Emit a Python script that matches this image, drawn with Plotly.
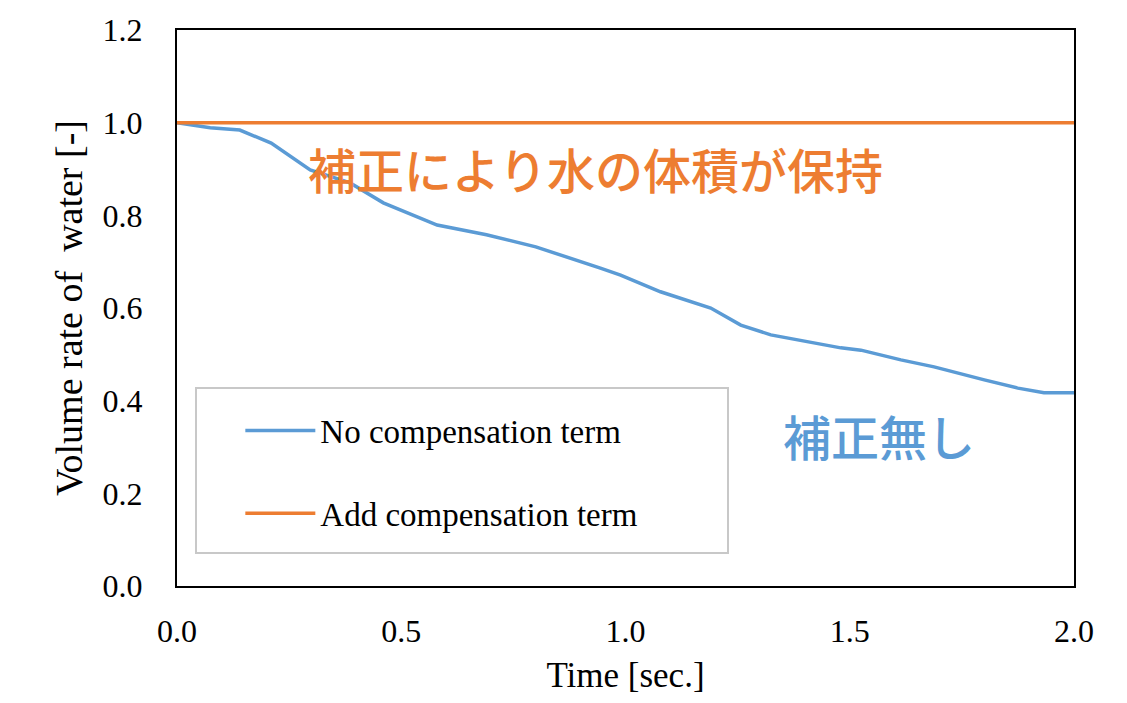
import plotly.graph_objects as go

# Data
time_no_comp = [0.0, 0.074, 0.14, 0.21, 0.297, 0.386, 0.46, 0.58, 0.69, 0.80, 0.944,
                0.989, 1.078, 1.19, 1.257, 1.324, 1.48, 1.525, 1.614, 1.688, 1.80,
                1.875, 1.933, 2.0]
vol_no_comp = [1.0, 0.989, 0.984, 0.956, 0.898, 0.870, 0.827, 0.779, 0.758, 0.732, 0.686,
               0.671, 0.635, 0.600, 0.563, 0.542, 0.514, 0.509, 0.488, 0.473, 0.445,
               0.427, 0.417, 0.417]
time_comp = [0.0, 2.0]
vol_comp = [1.0, 1.0]

series_names = ["No compensation term", "Add compensation term"]
x_ticks = [0.0, 0.5, 1.0, 1.5, 2.0]
y_ticks = [0.0, 0.2, 0.4, 0.6, 0.8, 1.0, 1.2]

BLUE = "#5B9BD5"
ORANGE = "#ED7D31"
SERIF = "Liberation Serif, Times New Roman, serif"
CJK = "Noto Sans CJK JP"

fig = go.Figure()
fig.add_trace(go.Scatter(x=time_no_comp, y=vol_no_comp, mode="lines",
                         name=series_names[0], legendgroup="a",
                         line=dict(color=BLUE, width=3.5)))
fig.add_trace(go.Scatter(x=time_comp, y=vol_comp, mode="lines",
                         name=series_names[1], legendgroup="b",
                         line=dict(color=ORANGE, width=3.5)))

fig.update_layout(
    width=1111, height=687,
    margin=dict(l=169, r=45, t=22, b=109),
    paper_bgcolor="white", plot_bgcolor="white",
    font=dict(family=SERIF, size=30, color="black"),
    showlegend=True,
    legend=dict(x=0.0706, xanchor="left", y=0.33, yanchor="top",
                bgcolor="rgba(0,0,0,0)", borderwidth=0,
                font=dict(family=SERIF, size=33, color="black"),
                tracegroupgap=37, itemwidth=70),
    shapes=[dict(type="rect", xref="paper", yref="paper",
                 x0=(196 - 177) / 897, x1=(728 - 177) / 897,
                 y0=(586 - 553) / 556, y1=(586 - 388) / 556,
                 line=dict(color="#C8C8C8", width=2), fillcolor="rgba(0,0,0,0)")],
    annotations=[
        dict(x=0.933, y=0.902, xref="x", yref="y", text="補正により水の体積が保持",
             showarrow=False, xanchor="center", yanchor="middle",
             font=dict(family=CJK, size=48, color=ORANGE, weight=500)),
        dict(x=1.565, y=0.326, xref="x", yref="y", text="補正無し",
             showarrow=False, xanchor="center", yanchor="middle",
             font=dict(family=CJK, size=48, color=BLUE, weight=500)),
    ],
)

fig.update_xaxes(range=[0, 2.0], tickvals=x_ticks, ticktext=[f"{v:.1f}" for v in x_ticks],
                 showgrid=False, zeroline=False, showline=True, linecolor="black",
                 linewidth=2, mirror=True, ticks="", ticklen=0, ticklabelstandoff=16,
                 automargin=False,
                 tickfont=dict(family=SERIF, size=32),
                 title=dict(text="Time [sec.]", font=dict(family=SERIF, size=35), standoff=22))
fig.update_yaxes(range=[0, 1.2], tickvals=y_ticks, ticktext=[f"{v:.1f}" for v in y_ticks],
                 showgrid=False, zeroline=False, showline=True, linecolor="black",
                 linewidth=2, mirror=True, ticks="", ticklen=0, ticklabelstandoff=26,
                 automargin=False,
                 tickfont=dict(family=SERIF, size=32),
                 title=dict(text="Volume rate of  water [-]", font=dict(family=SERIF, size=38), standoff=8))

fig.write_html("out.html")
